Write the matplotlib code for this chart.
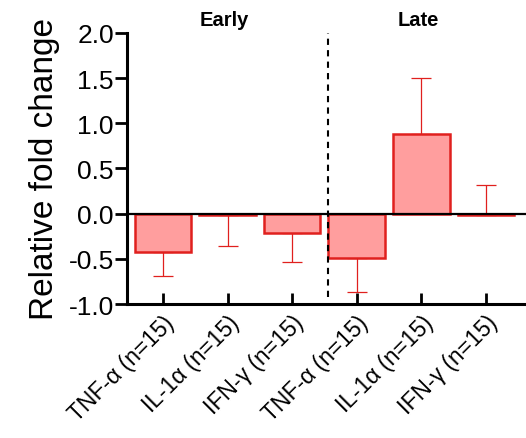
import matplotlib
matplotlib.use('Agg')
import matplotlib.pyplot as plt

plt.rcParams['font.family'] = ['Liberation Sans', 'DejaVu Sans']

# data
labels = ['TNF-α (n=15)', 'IL-1α (n=15)', 'IFN-γ (n=15)',
          'TNF-α (n=15)', 'IL-1α (n=15)', 'IFN-γ (n=15)']
values = [-0.42, -0.02, -0.21, -0.49, 0.88, -0.01]
err_low = [0.27, 0.34, 0.33, 0.38, 0.0, 0.0]
err_high = [0.0, 0.0, 0.0, 0.0, 0.62, 0.33]
groups = ['Early', 'Late']
yticks = [-1.0, -0.5, 0.0, 0.5, 1.0, 1.5, 2.0]

fig = plt.figure(figsize=(5.26, 4.39), dpi=100)
ax = fig.add_axes([0.2414, 0.3052, 0.7586, 0.6174])

x = list(range(len(values)))
ax.bar(x, values, width=0.875, color='#FF9E9E', edgecolor='#E0201E',
       linewidth=1.8, zorder=2)
ax.errorbar(x, values, yerr=[err_low, err_high], fmt='none',
            ecolor='#E0201E', elinewidth=0.9, capsize=7, capthick=0.9,
            zorder=1)

ax.axhline(0, color='black', linewidth=1.6, zorder=3)
ax.axvline(2.55, ymin=0.025, ymax=1.0, color='black', linestyle=(0, (3, 2.5)),
           linewidth=1.5)

ax.set_xlim(-0.557, 5.62)
ax.set_ylim(-1.0, 2.0)
ax.set_yticks(yticks)
ax.set_yticklabels([f'{t:.1f}' for t in yticks], fontsize=19)
ax.set_xticks(x)
ax.set_xticklabels(labels, fontsize=16.5, rotation=45, ha='right',
                   va='top', rotation_mode='anchor')

ax.spines['top'].set_visible(False)
ax.spines['right'].set_visible(False)
ax.spines['left'].set_linewidth(2.2)
ax.spines['bottom'].set_linewidth(2.2)
ax.tick_params(axis='y', direction='out', length=8.5, width=2.0, pad=1)
ax.tick_params(axis='x', direction='in', length=8, width=2.0, pad=5)

ax.set_ylabel('Relative fold change', fontsize=24, labelpad=6)

for i, g in enumerate(groups):
    ax.text(1 + 3 * i - 0.05, 1.048, g, transform=ax.get_xaxis_transform(),
            ha='center', va='center', fontsize=14.5, fontweight='bold')

fig.savefig('out.png', dpi=100)
